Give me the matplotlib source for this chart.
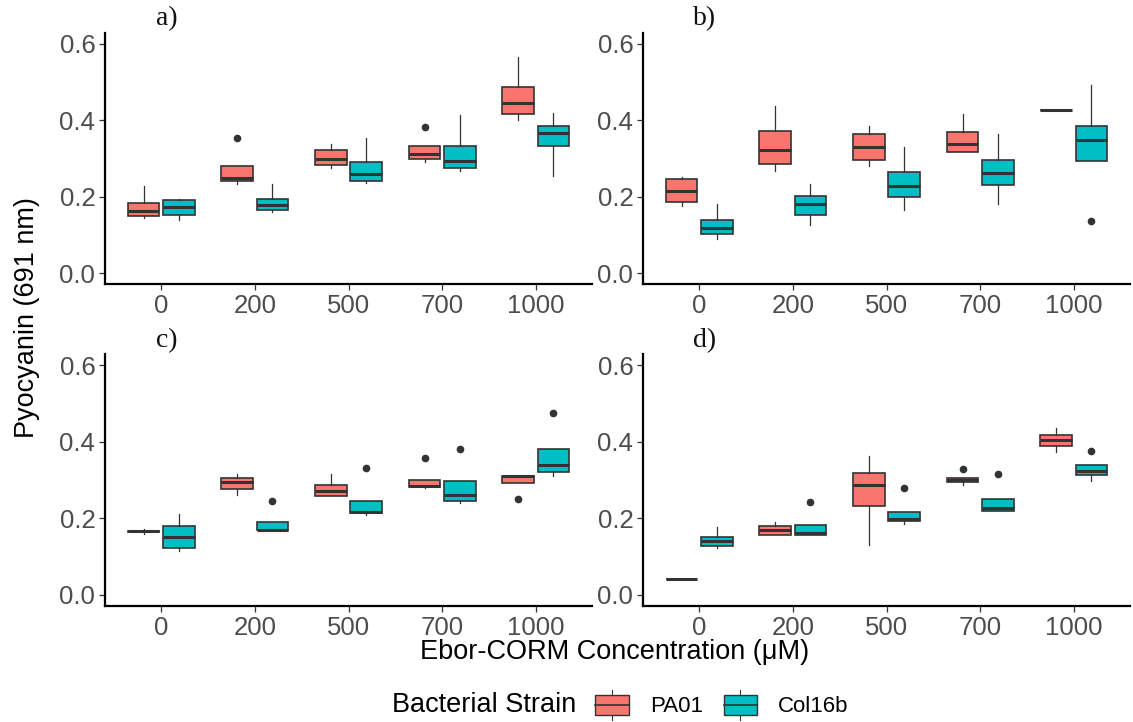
import matplotlib
matplotlib.use("Agg")
import matplotlib.pyplot as plt
from matplotlib.legend_handler import HandlerBase
from matplotlib.patches import Rectangle, Patch
from matplotlib.lines import Line2D
import numpy as np

plt.rcParams['font.family'] = ['Liberation Sans', 'DejaVu Sans']

concentrations = ["0", "200", "500", "700", "1000"]
strains = ["PA01", "Col16b"]
colors = {"PA01": "#F8766D", "Col16b": "#00BFC4"}
panel_names = ["a)", "b)", "c)", "d)"]

# box stats per concentration: (whisker low, q1, median, q3, whisker high)
a_pa01 = [[0.145, 0.150, 0.162, 0.184, 0.229],
          [0.232, 0.242, 0.250, 0.280, 0.280],
          [0.276, 0.283, 0.300, 0.321, 0.337],
          [0.292, 0.300, 0.311, 0.332, 0.332],
          [0.400, 0.416, 0.445, 0.488, 0.565]]
a_pa01_out = [[], [0.355], [], [0.382], []]
a_col = [[0.140, 0.151, 0.174, 0.190, 0.195],
         [0.159, 0.166, 0.178, 0.195, 0.234],
         [0.236, 0.240, 0.259, 0.292, 0.353],
         [0.267, 0.275, 0.293, 0.334, 0.413],
         [0.254, 0.332, 0.368, 0.385, 0.419]]
a_col_out = [[], [], [], [], []]

b_pa01 = [[0.176, 0.186, 0.216, 0.245, 0.252],
          [0.268, 0.285, 0.323, 0.371, 0.438],
          [0.281, 0.297, 0.331, 0.364, 0.385],
          [0.317, 0.317, 0.338, 0.369, 0.417],
          [0.427, 0.427, 0.427, 0.427, 0.427]]
b_pa01_out = [[], [], [], [], []]
b_col = [[0.090, 0.102, 0.117, 0.138, 0.182],
         [0.125, 0.151, 0.180, 0.203, 0.232],
         [0.166, 0.198, 0.229, 0.265, 0.331],
         [0.180, 0.230, 0.262, 0.297, 0.365],
         [0.294, 0.294, 0.349, 0.384, 0.493]]
b_col_out = [[], [], [], [], [0.136]]

c_pa01 = [[0.159, 0.165, 0.166, 0.167, 0.171],
          [0.261, 0.277, 0.296, 0.306, 0.316],
          [0.259, 0.259, 0.272, 0.288, 0.317],
          [0.279, 0.282, 0.285, 0.301, 0.301],
          [0.291, 0.291, 0.310, 0.310, 0.310]]
c_pa01_out = [[], [], [], [0.358], [0.249]]
c_col = [[0.113, 0.123, 0.152, 0.180, 0.211],
         [0.169, 0.169, 0.170, 0.190, 0.190],
         [0.209, 0.213, 0.215, 0.244, 0.244],
         [0.240, 0.245, 0.260, 0.298, 0.298],
         [0.310, 0.321, 0.339, 0.381, 0.381]]
c_col_out = [[], [0.246], [0.331], [0.381], [0.476]]

d_pa01 = [[0.041, 0.041, 0.041, 0.041, 0.041],
          [0.155, 0.155, 0.169, 0.180, 0.189],
          [0.130, 0.232, 0.288, 0.319, 0.362],
          [0.286, 0.294, 0.299, 0.304, 0.304],
          [0.373, 0.389, 0.404, 0.419, 0.435]]
d_pa01_out = [[], [], [], [0.328], []]
d_col = [[0.121, 0.128, 0.140, 0.150, 0.176],
         [0.157, 0.157, 0.162, 0.183, 0.183],
         [0.185, 0.192, 0.197, 0.217, 0.217],
         [0.220, 0.220, 0.226, 0.250, 0.250],
         [0.297, 0.314, 0.323, 0.338, 0.338]]
d_col_out = [[], [0.242], [0.279], [0.316], [0.377]]

panels = [(a_pa01, a_pa01_out, a_col, a_col_out),
          (b_pa01, b_pa01_out, b_col, b_col_out),
          (c_pa01, c_pa01_out, c_col, c_col_out),
          (d_pa01, d_pa01_out, d_col, d_col_out)]

edge = "#333333"
tick_grey = "#4D4D4D"


def to_bxp(stats, outs):
    res = []
    for s, o in zip(stats, outs):
        res.append(dict(whislo=s[0], q1=s[1], med=s[2], q3=s[3], whishi=s[4], fliers=o))
    return res


fig = plt.figure(figsize=(11.33, 7.22), dpi=100)
W, H = 1133, 722
lefts = [105, 643]
tops = [32.5, 354]
aw, ah = 487, 252

axes = []
for i in range(4):
    l = lefts[i % 2]
    t = tops[i // 2]
    ax = fig.add_axes([l / W, 1 - (t + ah) / H, aw / W, ah / H])
    axes.append(ax)

x = np.arange(1, len(concentrations) + 1)
for i, ax in enumerate(axes):
    pa, pa_out, col, col_out = panels[i]
    for st, data, outs, off in [("PA01", pa, pa_out, -0.1875), ("Col16b", col, col_out, 0.1875)]:
        ax.bxp(to_bxp(data, outs), positions=x + off, widths=0.3375, patch_artist=True,
               showcaps=False, manage_ticks=False,
               boxprops=dict(facecolor=colors[st], edgecolor=edge, linewidth=1.2),
               medianprops=dict(color=edge, linewidth=2.2, solid_capstyle='butt'),
               whiskerprops=dict(color=edge, linewidth=0.9),
               flierprops=dict(marker='o', markerfacecolor=edge, markeredgecolor=edge, markersize=4.5))
    ax.set_xlim(0.4, 5.6)
    ax.set_ylim(-0.03, 0.63)
    ax.set_xticks(x)
    ax.set_xticklabels(concentrations)
    ax.set_yticks([0.0, 0.2, 0.4, 0.6])
    ax.set_yticklabels(["0.0", "0.2", "0.4", "0.6"])
    ax.tick_params(axis='both', labelsize=18.5, labelcolor=tick_grey, color=edge,
                   length=4, width=0.9, pad=3)
    for s in ["top", "right"]:
        ax.spines[s].set_visible(False)
    for s in ["left", "bottom"]:
        ax.spines[s].set_linewidth(1.6)
        ax.spines[s].set_color("black")
    # panel label
    lx = 167 if i % 2 == 0 else 705
    ly = 19 if i // 2 == 0 else 341
    fig.text(lx / W, 1 - ly / H, panel_names[i], family=['Liberation Serif'], fontsize=20,
             ha='center', va='center', color='#111111')

fig.text(27 / W, 1 - 318 / H, "Pyocyanin (691 nm)", rotation=90, fontsize=19.5,
         ha='center', va='center')
fig.text(615 / W, 1 - 652 / H, "Ebor-CORM Concentration (μM)", fontsize=19.5,
         ha='center', va='center')


class BoxHandler(HandlerBase):
    def create_artists(self, legend, orig_handle, xdescent, ydescent, width, height, fontsize, trans):
        fc = orig_handle.get_facecolor()
        x0, y0 = -xdescent, -ydescent
        pad = height * 0.17
        rect = Rectangle((x0, y0 + pad), width, height - 2 * pad, facecolor=fc,
                         edgecolor=edge, linewidth=1.0, transform=trans)
        cx = x0 + width / 2
        w1 = Line2D([cx, cx], [y0, y0 + pad], color=edge, lw=0.8, transform=trans)
        w2 = Line2D([cx, cx], [y0 + height - pad, y0 + height], color=edge, lw=0.8, transform=trans)
        med = Line2D([x0, x0 + width], [y0 + height / 2] * 2, color=edge, lw=1.2, transform=trans)
        return [w1, w2, rect, med]


handles = [Patch(facecolor=colors[s]) for s in strains]
fig.text(484 / W, 1 - 705 / H, "Bacterial Strain", fontsize=19.5, ha='center', va='center')
fig.legend(handles, strains, handler_map={Patch: BoxHandler()}, loc='center',
           bbox_to_anchor=(722 / W, 1 - 705 / H), ncol=2, frameon=False, fontsize=16,
           handlelength=1.5, handleheight=1.75, columnspacing=0.95, handletextpad=0.95)

fig.savefig("out.png", dpi=100)
